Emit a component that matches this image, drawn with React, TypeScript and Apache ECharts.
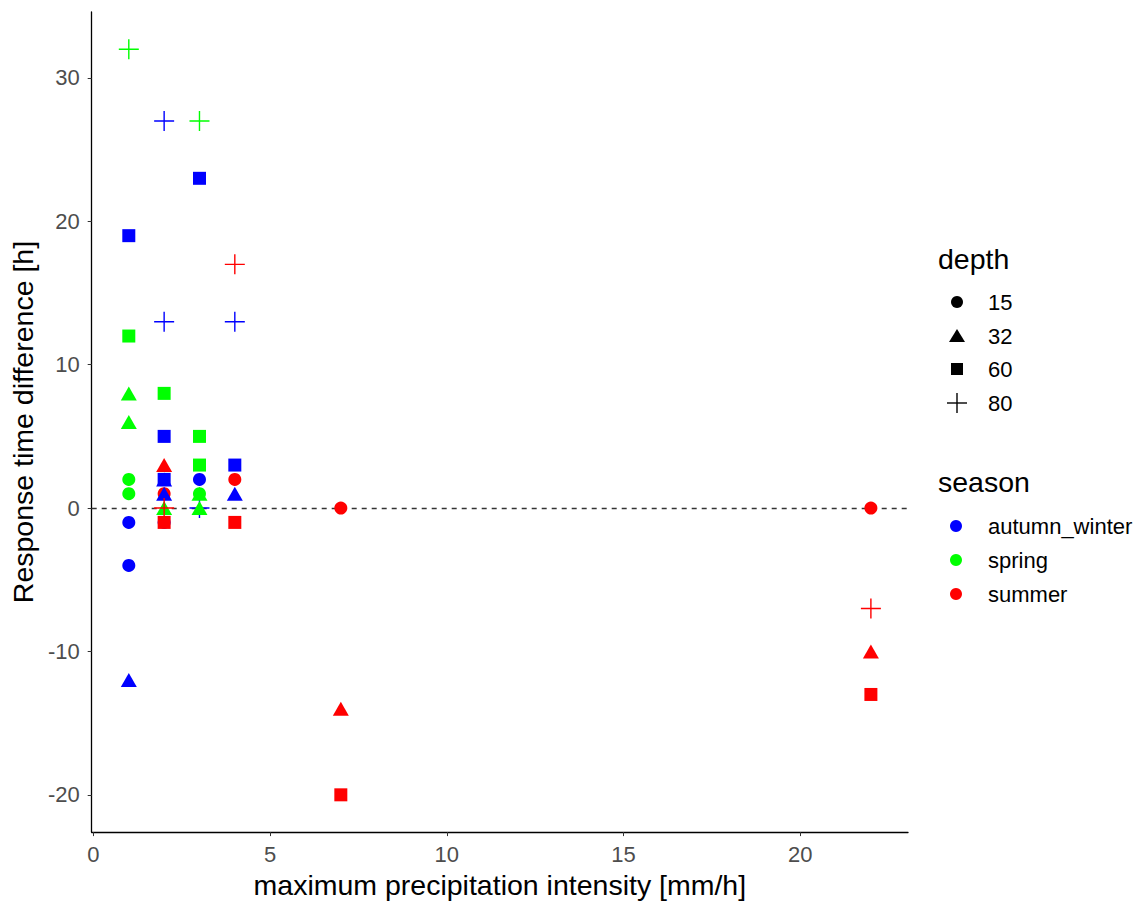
import React, { useEffect, useRef } from "react";
import * as echarts from "echarts";

// [max precipitation intensity, response time difference] per season & depth
const awDepth15 = [[1, -1], [1, -4], [2, -1], [3, 2]];
const awDepth32 = [[1, -12], [2, 2], [2, 1], [4, 1]];
const awDepth60 = [[1, 19], [2, 5], [2, 2], [3, 23], [4, 3]];
const awDepth80 = [[2, 27], [2, 13], [3, 0], [4, 13]];
const spDepth15 = [[1, 2], [1, 1], [3, 1]];
const spDepth32 = [[1, 8], [1, 6], [2, 0], [3, 1], [3, 0]];
const spDepth60 = [[1, 12], [2, 8], [3, 5], [3, 3]];
const spDepth80 = [[1, 32], [3, 27]];
const suDepth15 = [[2, 1], [4, 2], [7, 0], [22, 0]];
const suDepth32 = [[2, 3], [7, -14], [22, -10]];
const suDepth60 = [[2, -1], [4, -1], [7, -20], [22, -13]];
const suDepth80 = [[2, 0], [4, 17], [22, -7]];

const depthLabels = ["15", "32", "60", "80"];
const seasonLabels = ["autumn_winter", "spring", "summer"];
const seasonColors = ["#0000FF", "#00FF00", "#FF0000"];

const xTicks = [0, 5, 10, 15, 20];
const yTicks = [-20, -10, 0, 10, 20, 30];

const FONT = "Liberation Sans, Arial, sans-serif";
const PLUS = "path://M10,0 L10,20 M0,10 L20,10";

const shapeStyle: Record<string, { symbol: string; size: any }> = {
  "15": { symbol: "circle", size: 13 },
  "32": { symbol: "triangle", size: [16, 14] },
  "60": { symbol: "rect", size: 13 },
  "80": { symbol: PLUS, size: 20 },
};

function pointSeries(data: number[][], depth: string, color: string) {
  const s = shapeStyle[depth];
  const isPlus = depth === "80";
  return {
    type: "scatter",
    data,
    symbol: s.symbol,
    symbolSize: s.size,
    itemStyle: isPlus
      ? { color: "rgba(0,0,0,0)", borderColor: color, borderWidth: 1.4, opacity: 1 }
      : { color, opacity: 1 },
    emphasis: { disabled: true },
    z: 3,
  };
}

export default function App() {
  const ref = useRef<HTMLDivElement>(null);

  useEffect(() => {
    if (!ref.current) return;
    const chart = echarts.init(ref.current, undefined, { renderer: "svg" });

    const [blue, green, red] = seasonColors;
    const series: any[] = [
      pointSeries(awDepth15, "15", blue),
      pointSeries(suDepth15, "15", red),
      pointSeries(spDepth15, "15", green),
      pointSeries(awDepth32, "32", blue),
      pointSeries(awDepth60, "60", blue),
      pointSeries(awDepth80, "80", blue),
      pointSeries(spDepth32, "32", green),
      pointSeries(spDepth60, "60", green),
      pointSeries(spDepth80, "80", green),
      pointSeries(suDepth32, "32", red),
      pointSeries(suDepth60, "60", red),
      pointSeries(suDepth80, "80", red),
    ];
    // zero reference line
    series[0].markLine = {
      silent: true,
      symbol: "none",
      label: { show: false },
      lineStyle: { color: "#333333", type: [5, 5], width: 1.3 },
      data: [{ yAxis: 0 }],
      z: 1,
    };

    // legends
    const legendX = 957;
    const textX = 988;
    const depthRows = [302, 336, 369, 403];
    const seasonRows = [526, 560, 594];
    const graphics: any[] = [
      {
        type: "text",
        x: 938,
        y: 259,
        style: { text: "depth", font: `28.5px ${FONT}`, fill: "#000", verticalAlign: "middle" },
      },
      {
        type: "text",
        x: 938,
        y: 482,
        style: { text: "season", font: `28.5px ${FONT}`, fill: "#000", verticalAlign: "middle" },
      },
    ];
    depthLabels.forEach((lab, i) => {
      const y = depthRows[i];
      graphics.push({
        type: "text",
        x: textX,
        y,
        style: { text: lab, font: `22px ${FONT}`, fill: "#000", verticalAlign: "middle" },
      });
    });
    graphics.push(
      { type: "circle", shape: { cx: legendX, cy: depthRows[0], r: 6 }, style: { fill: "#000" } },
      {
        type: "polygon",
        shape: { points: [[legendX, depthRows[1] - 7], [legendX + 8, depthRows[1] + 6], [legendX - 8, depthRows[1] + 6]] },
        style: { fill: "#000" },
      },
      { type: "rect", shape: { x: legendX - 6, y: depthRows[2] - 6, width: 12, height: 12 }, style: { fill: "#000" } },
      { type: "line", shape: { x1: legendX - 10, y1: depthRows[3], x2: legendX + 10, y2: depthRows[3] }, style: { stroke: "#000", lineWidth: 1.4 } },
      { type: "line", shape: { x1: legendX, y1: depthRows[3] - 10, x2: legendX, y2: depthRows[3] + 10 }, style: { stroke: "#000", lineWidth: 1.4 } }
    );
    seasonLabels.forEach((lab, i) => {
      const y = seasonRows[i];
      graphics.push(
        { type: "circle", shape: { cx: legendX - 1, cy: y, r: 6 }, style: { fill: seasonColors[i] } },
        {
          type: "text",
          x: textX,
          y,
          style: { text: lab, font: `22px ${FONT}`, fill: "#000", verticalAlign: "middle" },
        }
      );
    });

    chart.setOption({
      animation: false,
      backgroundColor: "#ffffff",
      textStyle: { fontFamily: FONT },
      grid: { left: 88, top: 12, width: 820, height: 824, containLabel: false },
      xAxis: {
        type: "value",
        min: -0.05,
        max: 23.05,
        name: "maximum precipitation intensity [mm/h]",
        nameLocation: "middle",
        nameGap: 35,
        nameTextStyle: { fontSize: 28.5, color: "#000", fontFamily: FONT },
        axisLine: { show: true, onZero: false, lineStyle: { color: "#000", width: 1.3 } },
        axisTick: { show: true, length: 4, lineStyle: { color: "#333" }, customValues: xTicks },
        axisLabel: { fontSize: 22, color: "#4D4D4D", margin: 11, customValues: xTicks, fontFamily: FONT },
        splitLine: { show: false },
      },
      yAxis: {
        type: "value",
        min: -22.6,
        max: 34.6,
        name: "Response time difference [h]",
        nameLocation: "middle",
        nameGap: 50,
        nameTextStyle: { fontSize: 28.5, color: "#000", fontFamily: FONT },
        axisLine: { show: true, onZero: false, lineStyle: { color: "#000", width: 1.3 } },
        axisTick: { show: true, length: 4, lineStyle: { color: "#333" }, customValues: yTicks },
        axisLabel: { fontSize: 22, color: "#4D4D4D", margin: 12, customValues: yTicks, fontFamily: FONT },
        splitLine: { show: false },
      },
      series,
      graphic: graphics,
    });

    return () => chart.dispose();
  }, []);

  return (
    <div
      ref={ref}
      style={{ position: "fixed", left: 0, top: 0, width: 1140, height: 904, background: "#fff" }}
    />
  );
}
